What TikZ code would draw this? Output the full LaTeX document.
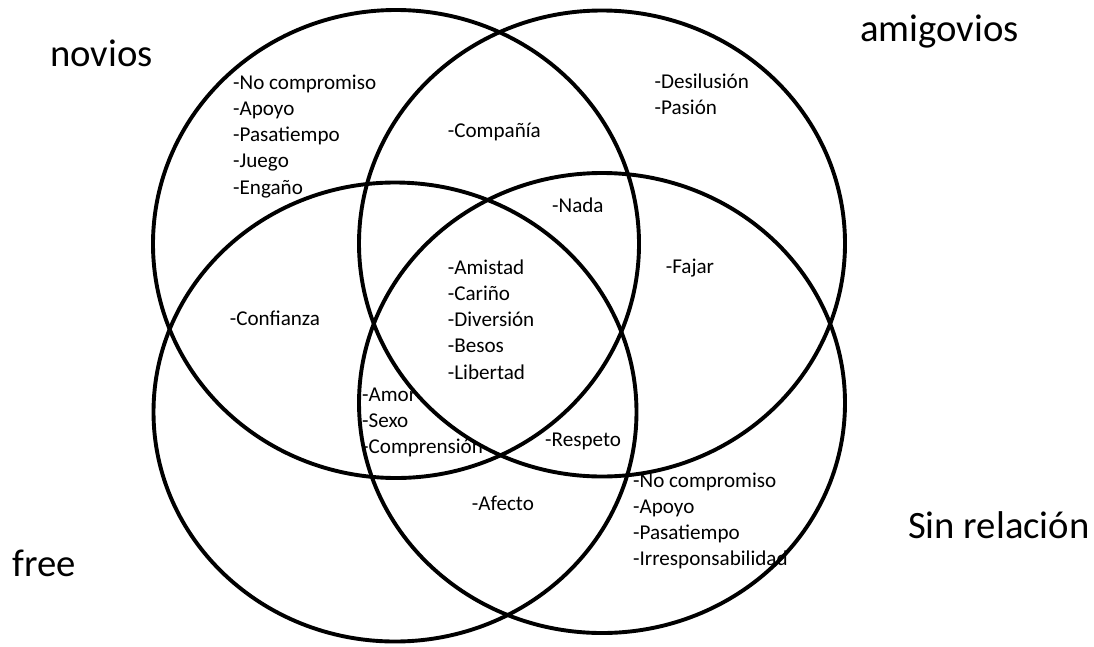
\documentclass[tikz,border=0pt]{standalone}
\usepackage{fontspec}
\setmainfont{Carlito}
\begin{document}
\begin{tikzpicture}[x=1pt,y=-1pt,
  circ/.style={draw=black, line width=3.9pt},
  sm/.style={anchor=base west, inner sep=0pt, font=\fontsize{21.1}{26}\selectfont},
  big/.style={anchor=base west, inner sep=0pt, font=\fontsize{38.7}{46}\selectfont}]
\useasboundingbox (0,0) rectangle (1094,646);
\fill[white] (0,0) rectangle (1094,646);
% circles
\draw[circ] (396,244) ellipse [x radius=243pt, y radius=234pt];
\draw[circ] (602,243.5) ellipse [x radius=243pt, y radius=233pt];
\draw[circ] (395,412) ellipse [x radius=241.5pt, y radius=229.5pt];
\draw[circ] (602,403) ellipse [x radius=243pt, y radius=230pt];
% titles
\node[big] (novios) at (50,66.7) {novios};
\node[big] (amigovios) at (860,41.7) {amigovios};
\node[big] (free) at (12,576.3) {free};
\node[big] (sinrel) at (908,538) {Sin relación};
% novios only
\foreach \t [count=\i] in {-No compromiso,-Apoyo,-Pasatiempo,-Juego,-Engaño}
  \node[sm] (na\i) at (233,{89+26.3*(\i-1)}) {\t};
\node[sm] (compania) at (447.7,137.3) {-Compañía};
\foreach \t [count=\i] in {-Desilusión,-Pasión}
  \node[sm] (am\i) at (654.5,{88.3+26.3*(\i-1)}) {\t};
\node[sm] (nada) at (552,212) {-Nada};
\node[sm] (fajar) at (665.6,273.3) {-Fajar};
\node[sm] (confianza) at (229.6,325) {-Confianza};
\foreach \t [count=\i] in {-Amistad,-Cariño,-Diversión,-Besos,-Libertad}
  \node[sm] (ce\i) at (447.7,{274+26.3*(\i-1)}) {\t};
\foreach \t [count=\i] in {-Amor,-Sexo,-Comprensión}
  \node[sm] (fr\i) at (362,{401.3+26.3*(\i-1)}) {\t};
\node[sm] (respeto) at (545,446.3) {-Respeto};
\node[sm] (afecto) at (471.7,510.3) {-Afecto};
\foreach \t [count=\i] in {-No compromiso,-Apoyo,-Pasatiempo,-Irresponsabilidad}
  \node[sm] (sr\i) at (633,{487+26.3*(\i-1)}) {\t};
\end{tikzpicture}
\end{document}
